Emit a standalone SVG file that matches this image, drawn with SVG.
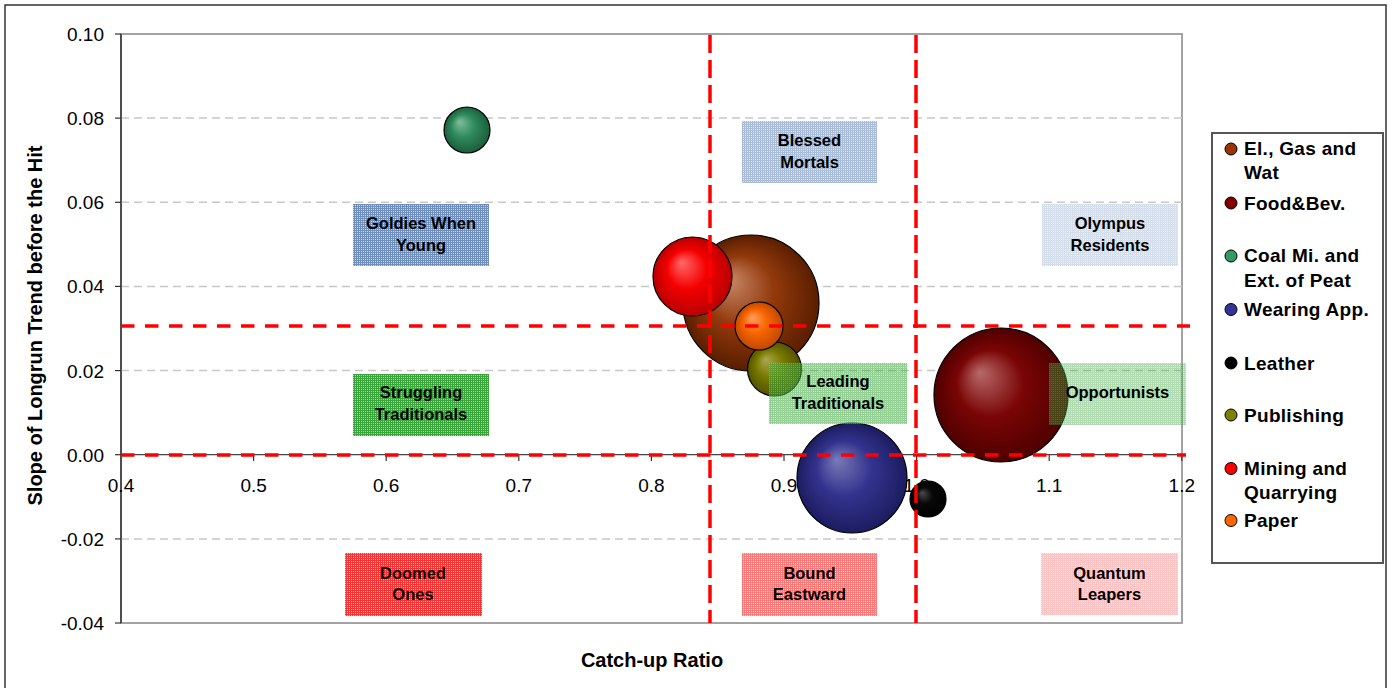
<svg xmlns="http://www.w3.org/2000/svg" width="1394" height="688" viewBox="0 0 1394 688">
<style>
.tick{font-family:"Liberation Sans",Arial,sans-serif;font-size:19px;fill:#000}
.ytick{text-anchor:end}
.xtick{text-anchor:middle}
.title{font-family:"Liberation Sans",Arial,sans-serif;font-size:20px;font-weight:bold;fill:#000;text-anchor:middle}
.blab{font-family:"Liberation Sans",Arial,sans-serif;font-size:16.5px;font-weight:bold;fill:#000;text-anchor:middle}
.leg{font-family:"Liberation Sans",Arial,sans-serif;font-size:19px;font-weight:bold;fill:#000;letter-spacing:0.3px}
.grid{stroke:#c8c8c8;stroke-width:1.5;stroke-dasharray:8 5;fill:none}
.qh{stroke:#ff0000;stroke-width:3.5;stroke-dasharray:13.5 10.5;fill:none}
.qv{stroke:#ff0000;stroke-width:3.5;stroke-dasharray:18 7;fill:none}
.bub{stroke:#000;stroke-width:1.2}
.mk{stroke:#000;stroke-width:1}
.tk{stroke:#333;stroke-width:1.2}
</style>
<defs>
<pattern id="pBlue" width="2" height="2" patternUnits="userSpaceOnUse"><rect width="2" height="2" fill="#c8d6ea"/><rect width="2" height="1" fill="#6f8fbf"/><rect width="1" height="2" fill="#6f8fbf"/></pattern>
<pattern id="pGreen" width="2" height="2" patternUnits="userSpaceOnUse"><rect width="2" height="2" fill="#a0d8a0"/><rect width="2" height="1" fill="#3aa53a"/><rect width="1" height="2" fill="#3aa53a"/></pattern>
<pattern id="pRed" width="2" height="2" patternUnits="userSpaceOnUse"><rect width="2" height="2" fill="#ffb0b0"/><rect width="2" height="1" fill="#ff3030"/><rect width="1" height="2" fill="#ff3030"/></pattern>
<radialGradient id="gElec" cx="0.5" cy="0.5" r="0.5" fx="0.33" fy="0.32"><stop offset="0" stop-color="#c98a6c"/><stop offset="0.5" stop-color="#933a0c"/><stop offset="1" stop-color="#5a1e00"/></radialGradient>
<radialGradient id="gFood" cx="0.5" cy="0.5" r="0.5" fx="0.34" fy="0.33"><stop offset="0" stop-color="#b86a6a"/><stop offset="0.5" stop-color="#7a0505"/><stop offset="1" stop-color="#4e0000"/></radialGradient>
<radialGradient id="gCoal" cx="0.5" cy="0.5" r="0.5" fx="0.33" fy="0.32"><stop offset="0" stop-color="#7fbf9c"/><stop offset="0.5" stop-color="#2f8a5c"/><stop offset="1" stop-color="#1b5e3c"/></radialGradient>
<radialGradient id="gWear" cx="0.5" cy="0.5" r="0.5" fx="0.36" fy="0.33"><stop offset="0" stop-color="#7a7ab8"/><stop offset="0.5" stop-color="#33338f"/><stop offset="1" stop-color="#1c1c60"/></radialGradient>
<radialGradient id="gLeat" cx="0.5" cy="0.5" r="0.5" fx="0.33" fy="0.33"><stop offset="0" stop-color="#4a4a4a"/><stop offset="0.45" stop-color="#080808"/><stop offset="1" stop-color="#000"/></radialGradient>
<radialGradient id="gPub" cx="0.5" cy="0.5" r="0.5" fx="0.33" fy="0.32"><stop offset="0" stop-color="#a8a850"/><stop offset="0.5" stop-color="#7a7a00"/><stop offset="1" stop-color="#525200"/></radialGradient>
<radialGradient id="gMin" cx="0.5" cy="0.5" r="0.5" fx="0.36" fy="0.32"><stop offset="0" stop-color="#ff6a6a"/><stop offset="0.5" stop-color="#f50000"/><stop offset="1" stop-color="#b80000"/></radialGradient>
<radialGradient id="gPap" cx="0.5" cy="0.5" r="0.5" fx="0.35" fy="0.32"><stop offset="0" stop-color="#ffa060"/><stop offset="0.5" stop-color="#f86400"/><stop offset="1" stop-color="#c04800"/></radialGradient>
</defs>
<rect width="1394" height="688" fill="#fff"/>
<rect x="5" y="5" width="1381" height="700" fill="none" stroke="#333" stroke-width="1.5"/>

<g id="plot-area">
<rect x="121" y="34" width="1061" height="589" fill="#fff" stroke="#999" stroke-width="1.8"/>
<line class="grid" x1="121" y1="118.1" x2="1182" y2="118.1"/>
<line class="grid" x1="121" y1="202.3" x2="1182" y2="202.3"/>
<line class="grid" x1="121" y1="286.4" x2="1182" y2="286.4"/>
<line class="grid" x1="121" y1="370.6" x2="1182" y2="370.6"/>
<line class="grid" x1="121" y1="538.9" x2="1182" y2="538.9"/>
<line x1="121" y1="34" x2="121" y2="623" stroke="#222" stroke-width="1.3"/>
<line x1="121" y1="454.7" x2="1182" y2="454.7" stroke="#444" stroke-width="1.3"/>
<g class="tk">
<line x1="115" y1="34" x2="121" y2="34"/><line x1="115" y1="118.1" x2="121" y2="118.1"/><line x1="115" y1="202.3" x2="121" y2="202.3"/><line x1="115" y1="286.4" x2="121" y2="286.4"/><line x1="115" y1="370.6" x2="121" y2="370.6"/><line x1="115" y1="454.7" x2="121" y2="454.7"/><line x1="115" y1="538.9" x2="121" y2="538.9"/><line x1="115" y1="623" x2="121" y2="623"/>
<line x1="253.6" y1="455" x2="253.6" y2="461"/><line x1="386.2" y1="455" x2="386.2" y2="461"/><line x1="518.8" y1="455" x2="518.8" y2="461"/><line x1="651.4" y1="455" x2="651.4" y2="461"/><line x1="784" y1="455" x2="784" y2="461"/><line x1="916.6" y1="455" x2="916.6" y2="461"/><line x1="1049.2" y1="455" x2="1049.2" y2="461"/><line x1="1181.8" y1="455" x2="1181.8" y2="461"/>
</g>
<g class="tick ytick">
<text x="104" y="41">0.10</text><text x="104" y="125.1">0.08</text><text x="104" y="209.3">0.06</text><text x="104" y="293.4">0.04</text><text x="104" y="377.6">0.02</text><text x="104" y="461.7">0.00</text><text x="104" y="545.9">-0.02</text><text x="104" y="630">-0.04</text>
</g>
<g class="tick xtick">
<text x="121" y="492">0.4</text><text x="253.6" y="492">0.5</text><text x="386.2" y="492">0.6</text><text x="518.8" y="492">0.7</text><text x="651.4" y="492">0.8</text><text x="784" y="492">0.9</text><text x="916.6" y="492">1.0</text><text x="1049.2" y="492">1.1</text><text x="1181.8" y="492">1.2</text>
</g>
<text class="title" transform="translate(42,325.5) rotate(-90)">Slope of Longrun Trend before the Hit</text>
<text class="title" x="652" y="667">Catch-up Ratio</text>
</g>

<g id="bubbles">
<g id="bubble-elec"><circle class="bub" cx="751" cy="303" r="68" fill="url(#gElec)"/></g>
<g id="bubble-food"><circle class="bub" cx="1001" cy="395" r="67" fill="url(#gFood)"/></g>
<g id="bubble-wearing"><circle class="bub" cx="852" cy="478" r="55" fill="url(#gWear)"/></g>
<g id="bubble-mining"><circle class="bub" cx="692.5" cy="276.5" r="39.5" fill="url(#gMin)"/></g>
<g id="bubble-publishing"><circle class="bub" cx="774.5" cy="369" r="27" fill="url(#gPub)"/></g>
<g id="bubble-coal"><circle class="bub" cx="467" cy="130" r="23" fill="url(#gCoal)"/></g>
<g id="bubble-paper"><circle class="bub" cx="759" cy="326" r="24" fill="url(#gPap)"/></g>
<g id="bubble-leather"><circle class="bub" cx="928" cy="499" r="18" fill="url(#gLeat)"/></g>
</g>

<g id="quadrant-labels">
<g id="lbl-goldies"><rect x="353" y="204" width="136" height="62" fill="url(#pBlue)"/><text class="blab" x="421" y="229">Goldies When</text><text class="blab" x="421" y="251">Young</text></g>
<g id="lbl-blessed"><rect x="742" y="121" width="135" height="62" fill="url(#pBlue)" opacity="0.6"/><text class="blab" x="809.5" y="146">Blessed</text><text class="blab" x="809.5" y="168">Mortals</text></g>
<g id="lbl-olympus"><rect x="1042" y="204" width="136" height="62" fill="url(#pBlue)" opacity="0.3"/><text class="blab" x="1110" y="229">Olympus</text><text class="blab" x="1110" y="251">Residents</text></g>
<g id="lbl-struggling"><rect x="353" y="374" width="136" height="62" fill="url(#pGreen)"/><text class="blab" x="421" y="398">Struggling</text><text class="blab" x="421" y="420">Traditionals</text></g>
<g id="lbl-leading"><rect x="769" y="363" width="138" height="61" fill="url(#pGreen)" opacity="0.55"/><text class="blab" x="838" y="387">Leading</text><text class="blab" x="838" y="409">Traditionals</text></g>
<g id="lbl-opportunists"><rect x="1049" y="363" width="137" height="62" fill="url(#pGreen)" opacity="0.4"/><text class="blab" x="1117.5" y="398">Opportunists</text></g>
<g id="lbl-doomed"><rect x="345" y="553" width="137" height="63" fill="url(#pRed)"/><text class="blab" x="413" y="579">Doomed</text><text class="blab" x="413" y="600">Ones</text></g>
<g id="lbl-bound"><rect x="742" y="553" width="135" height="63" fill="url(#pRed)" opacity="0.65"/><text class="blab" x="809.5" y="578.5">Bound</text><text class="blab" x="809.5" y="599.5">Eastward</text></g>
<g id="lbl-quantum"><rect x="1041" y="553" width="137" height="62" fill="url(#pRed)" opacity="0.3"/><text class="blab" x="1109.5" y="579">Quantum</text><text class="blab" x="1109.5" y="600">Leapers</text></g>
</g>

<g id="connectors">
<line class="qh" x1="121" y1="326" x2="1190" y2="326"/>
<line class="qh" x1="121" y1="455" x2="1186" y2="455"/>
<line class="qv" x1="710" y1="35" x2="710" y2="623"/>
<line class="qv" x1="916" y1="35" x2="916" y2="623"/>
</g>

<g id="legend">
<rect x="1212" y="133" width="171" height="430" fill="#fff" stroke="#555" stroke-width="2"/>
<g id="leg-elec"><circle class="mk" cx="1231" cy="149" r="6" fill="#993300"/><text class="leg" x="1244" y="155">El., Gas and</text><text class="leg" x="1244" y="179">Wat</text></g>
<g id="leg-food"><circle class="mk" cx="1231" cy="203" r="6" fill="#800000"/><text class="leg" x="1244" y="210">Food&amp;Bev.</text></g>
<g id="leg-coal"><circle class="mk" cx="1231" cy="256" r="6" fill="#339966"/><text class="leg" x="1244" y="262">Coal Mi. and</text><text class="leg" x="1244" y="286.5">Ext. of Peat</text></g>
<g id="leg-wearing"><circle class="mk" cx="1231" cy="309.5" r="6" fill="#333399"/><text class="leg" x="1244" y="316">Wearing App.</text></g>
<g id="leg-leather"><circle class="mk" cx="1231" cy="363" r="6" fill="#000"/><text class="leg" x="1244" y="369.5">Leather</text></g>
<g id="leg-publishing"><circle class="mk" cx="1231" cy="415" r="6" fill="#808000"/><text class="leg" x="1244" y="421.5">Publishing</text></g>
<g id="leg-mining"><circle class="mk" cx="1231" cy="468.5" r="6" fill="#ff0000"/><text class="leg" x="1244" y="475">Mining and</text><text class="leg" x="1244" y="499">Quarrying</text></g>
<g id="leg-paper"><circle class="mk" cx="1231" cy="520.5" r="6" fill="#ff6600"/><text class="leg" x="1244" y="527">Paper</text></g>
</g>
</svg>
